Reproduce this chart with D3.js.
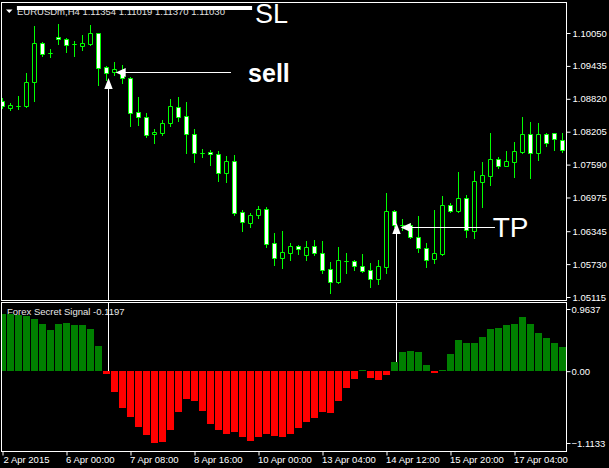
<!DOCTYPE html>
<html><head><meta charset="utf-8">
<script src="https://cdn.jsdelivr.net/npm/d3@7"></script>
<style>html,body{margin:0;padding:0;background:#000;overflow:hidden}</style>
</head><body><svg id="c" width="609" height="468"></svg>
<script>
// ---------- DATA ----------
const symbolTitle = "EURUSDm,H4 1.11354 1.11019 1.11370 1.11030";
const indicatorTitle = "Forex Secret Signal -0.1197";
const timeLabels = ["2 Apr 2015","6 Apr 00:00","7 Apr 08:00","8 Apr 16:00","10 Apr 00:00","13 Apr 04:00","14 Apr 12:00","15 Apr 20:00","17 Apr 04:00"];
const timeLabelBars = [0,8,16,24,32,40,48,56,64];
const priceTicks = [1.10050,1.09435,1.08820,1.08205,1.07590,1.06975,1.06345,1.05730,1.05115];
const signalTicks = [0.9637,0,-1.1133];

const open  = [1.08779,1.08648,1.08685,1.08685,1.09134,1.09863,1.09682,1.09975,1.09938,1.09839,1.09816,1.09844,1.10044,1.09409,1.09312,1.09321,1.09203,1.08568,1.08474,1.08153,1.08186,1.08362,1.08661,1.08499,1.08162,1.07813,1.07831,1.07788,1.07427,1.07657,1.06698,1.06493,1.06648,1.06760,1.06119,1.05835,1.05943,1.06068,1.05906,1.06068,1.05932,1.05633,1.05401,1.05794,1.05788,1.05695,1.05620,1.05457,1.05682,1.06723,1.06470,1.06461,1.06231,1.06025,1.05820,1.05919,1.06829,1.06728,1.06960,1.06354,1.07270,1.07383,1.07689,1.07570,1.07644,1.07831,1.08162,1.07801,1.08162,1.08175,1.08050];
const high  = [1.08835,1.08747,1.08872,1.09302,1.10181,1.09887,1.09745,1.10209,1.09951,1.09901,1.10013,1.10200,1.10056,1.09433,1.09514,1.09452,1.09233,1.08859,1.08549,1.08256,1.08424,1.08811,1.08854,1.08760,1.08256,1.07876,1.07863,1.07850,1.07751,1.07770,1.06741,1.06691,1.06816,1.06803,1.06306,1.06354,1.06119,1.06087,1.06168,1.06181,1.06168,1.05775,1.06055,1.05943,1.05807,1.05919,1.05745,1.05807,1.07065,1.06741,1.06573,1.06498,1.06629,1.06119,1.06741,1.07003,1.06878,1.07457,1.07022,1.07476,1.07644,1.08175,1.07738,1.07850,1.08018,1.08485,1.08392,1.08373,1.08175,1.08186,1.08186];
const low   = [1.08648,1.08611,1.08629,1.08667,1.08785,1.09620,1.09607,1.09839,1.09689,1.09620,1.09732,1.09826,1.09078,1.09172,1.09265,1.09110,1.08312,1.08330,1.08112,1.07999,1.08143,1.08312,1.08405,1.07813,1.07639,1.07738,1.07583,1.07289,1.07270,1.06648,1.06354,1.06429,1.06586,1.06055,1.05713,1.05657,1.05807,1.05919,1.05807,1.05900,1.05569,1.05195,1.05371,1.05569,1.05620,1.05588,1.05296,1.05358,1.05569,1.06424,1.06368,1.06218,1.05962,1.05676,1.05756,1.05900,1.06710,1.06710,1.06231,1.06212,1.06803,1.07209,1.07521,1.07564,1.07364,1.07813,1.07334,1.07676,1.07938,1.07863,1.07831];
const close = [1.08685,1.08704,1.08680,1.09134,1.09863,1.09658,1.09676,1.09929,1.09831,1.09844,1.09872,1.10044,1.09401,1.09308,1.09368,1.09209,1.08560,1.08474,1.08143,1.08199,1.08373,1.08685,1.08489,1.08153,1.07801,1.07810,1.07783,1.07427,1.07657,1.06691,1.06523,1.06648,1.06760,1.06106,1.05839,1.05951,1.06068,1.06007,1.06044,1.05932,1.05620,1.05401,1.05807,1.05790,1.05695,1.05601,1.05457,1.05695,1.06723,1.06461,1.06467,1.06231,1.06025,1.05807,1.05943,1.06835,1.06728,1.06960,1.06368,1.07284,1.07396,1.07689,1.07564,1.07657,1.07839,1.08162,1.07801,1.08162,1.07988,1.08063,1.07863];
const signal = [0.884,0.884,0.868,0.857,0.806,0.729,0.636,0.729,0.749,0.713,0.713,0.656,0.388,-0.042,-0.321,-0.569,-0.708,-0.868,-0.992,-1.113,-1.105,-0.915,-0.631,-0.434,-0.465,-0.620,-0.817,-0.915,-0.981,-0.941,-1.023,-1.081,-1.023,-0.972,-1.003,-1.023,-0.972,-0.879,-0.786,-0.724,-0.640,-0.656,-0.465,-0.259,-0.129,0.010,-0.104,-0.140,-0.062,0.145,0.300,0.310,0.295,0.093,-0.030,0.012,0.264,0.481,0.439,0.439,0.532,0.656,0.672,0.713,0.729,0.837,0.729,0.594,0.517,0.439,0.377];

// annotation anchors (bar index, price)
const slMark   = {bar0: 1.8, bar1: 31.2, price: 1.10517, textBar: 31.56, textPrice: 1.10234, label: "SL"};
const sellMark = {bar: 13.2, price: 1.09209, lineBar0: 14.15, lineBar1: 28.56, linePrice: 1.09327, textBar: 30.7, textPrice: 1.09134, label: "sell"};
const tpMark   = {bar: 49.15, price: 1.06498, lineBar0: 49.77, lineBar1: 61.56, linePrice: 1.06424, textBar: 61.27, textPrice: 1.06242, label: "TP"};

// ---------- LAYOUT ----------
const W = 609, H = 468;
const L = 1.5, R = 566.5, mainTop = 2.5, mainBot = 300.5, subTop = 302.5, subBot = 451.5;
const FONT = "'Liberation Sans', Arial, sans-serif";
const LIME = "#00ff00";

const n = open.length;
const x = d3.scaleLinear().domain([0, n - 1]).range([2.5, 2.5 + 8 * (n - 1)]);
const yP = d3.scaleLinear().domain([1.05115, 1.10050]).range([297, 33]);
const yS = d3.scaleLinear().domain([-1.1133, 0.9637]).range([443, 309]);
const cr = v => Math.round(v) + 0.5;

const svg = d3.select("#c");
svg.append("rect").attr("width", W).attr("height", H).attr("fill", "#000");

const defs = svg.append("defs");
defs.append("clipPath").attr("id", "mc").append("rect")
  .attr("x", L).attr("y", mainTop).attr("width", R - L).attr("height", mainBot - mainTop);
defs.append("clipPath").attr("id", "sc").append("rect")
  .attr("x", L).attr("y", subTop).attr("width", R - L).attr("height", subBot - subTop);

// ---------- TITLES ----------
svg.append("text").attr("x", 17).attr("y", 15).attr("font-family", FONT).attr("font-size", 9.5)
  .attr("fill", "#e0e0e0").text(symbolTitle);
svg.append("path").attr("d", "M6,9.5L12.5,9.5L9.25,13Z").attr("fill", "#fff");
svg.append("text").attr("x", 7).attr("y", 315).attr("font-family", FONT).attr("font-size", 9.5)
  .attr("fill", "#e8e8e8").text(indicatorTitle);

// ---------- CANDLES ----------
const candles = d3.range(n).map(i => ({i, o: open[i], h: high[i], l: low[i], c: close[i]}));
const gm = svg.append("g").attr("clip-path", "url(#mc)");
gm.selectAll("line.wick").data(candles).join("line").attr("class", "wick")
  .attr("x1", d => x(d.i)).attr("x2", d => x(d.i))
  .attr("y1", d => Math.round(yP(d.h))).attr("y2", d => Math.round(yP(d.l)) + 1)
  .attr("stroke", LIME).attr("stroke-width", 1);
gm.selectAll("path.body").data(candles).join("path").attr("class", "body")
  .attr("d", d => {
    const y0 = cr(yP(Math.max(d.o, d.c))), y1 = cr(yP(Math.min(d.o, d.c)));
    const x0 = x(d.i) - 2;
    return `M${x0},${y0}H${x0 + 4}V${y1}H${x0}Z`;
  })
  .attr("fill", d => d.c < d.o ? "#ffffff" : "#000000")
  .attr("stroke", LIME).attr("stroke-width", 1);

// ---------- HISTOGRAM ----------
const gs = svg.append("g").attr("clip-path", "url(#sc)");
function vline(m) {
  const tx = cr(x(m.bar));
  gs.append("line").attr("x1", tx).attr("x2", tx).attr("y1", subTop).attr("y2", Math.round(yS(0)))
    .attr("stroke", "#fff").attr("stroke-width", 1);
}
vline(sellMark); vline(tpMark);
const hist = signal.map((v, i) => ({i, v}));
const z = Math.round(yS(0));
gs.selectAll("rect.bar").data(hist).join("rect").attr("class", "bar")
  .attr("x", d => x(d.i) - 3.5).attr("width", 7)
  .attr("y", d => d.v >= 0 ? Math.min(z - 1, Math.round(yS(d.v))) : z)
  .attr("height", d => Math.max(1, Math.abs(Math.round(yS(d.v)) - z)))
  .attr("fill", d => d.v >= 0 ? "#008000" : "#ff0000");

// ---------- ANNOTATIONS (main) ----------
const ga = svg.append("g");
ga.append("rect").attr("x", x(slMark.bar0)).attr("y", Math.round(yP(slMark.price)) - 2)
  .attr("width", x(slMark.bar1) - x(slMark.bar0)).attr("height", 4).attr("fill", "#fff");
ga.append("text").attr("x", x(slMark.textBar)).attr("y", yP(slMark.textPrice))
  .attr("font-family", FONT).attr("font-size", 27).attr("fill", "#fff").text(slMark.label);

function upArrowMain(m) {
  const tx = cr(x(m.bar)), ty = yP(m.price);
  ga.append("line").attr("x1", tx).attr("x2", tx).attr("y1", ty + 10).attr("y2", mainBot)
    .attr("stroke", "#fff").attr("stroke-width", 1);
  ga.append("path").attr("d", `M${tx},${ty}L${tx + 4.2},${ty + 11}L${tx - 4.2},${ty + 11}Z`).attr("fill", "#fff");
}
function leftArrowLine(m, bold, size) {
  const tx = x(m.lineBar0), ty = cr(yP(m.linePrice));
  ga.append("line").attr("x1", tx + 8).attr("x2", x(m.lineBar1)).attr("y1", ty).attr("y2", ty)
    .attr("stroke", "#fff").attr("stroke-width", 1);
  ga.append("path").attr("d", `M${tx},${ty}L${tx + 10},${ty - 4.6}L${tx + 10},${ty + 4.6}Z`).attr("fill", "#fff");
  ga.append("text").attr("x", x(m.textBar)).attr("y", yP(m.textPrice))
    .attr("font-family", FONT).attr("font-size", size).attr("font-weight", bold ? "bold" : "normal")
    .attr("fill", "#fff").text(m.label);
}
upArrowMain(sellMark); leftArrowLine(sellMark, true, 25);
upArrowMain(tpMark); leftArrowLine(tpMark, false, 28);

// ---------- FRAMES ----------
svg.append("rect").attr("x", L).attr("y", mainTop).attr("width", R - L).attr("height", mainBot - mainTop)
  .attr("fill", "none").attr("stroke", "#fff");
svg.append("rect").attr("x", L).attr("y", subTop).attr("width", R - L).attr("height", subBot - subTop)
  .attr("fill", "none").attr("stroke", "#fff");

// ---------- AXES ----------
function styleAxis(g) {
  g.select(".domain").remove();
  g.selectAll(".tick line").attr("stroke", "#fff");
  g.selectAll(".tick text").attr("fill", "#fff").attr("font-family", FONT).attr("font-size", 9.5);
}
svg.append("g").attr("transform", `translate(${R},0)`)
  .call(d3.axisRight(yP).tickValues(priceTicks).tickFormat(d3.format(".5f")).tickSize(4).tickPadding(2))
  .call(styleAxis);
svg.append("g").attr("transform", `translate(${R},0)`)
  .call(d3.axisRight(yS).tickValues(signalTicks).tickFormat(d => d === 0 ? "0.00" : d3.format(".4f")(d)).tickSize(4).tickPadding(1))
  .call(styleAxis);
const gx = svg.append("g").attr("transform", `translate(0,${subBot})`)
  .call(d3.axisBottom(x).tickValues(timeLabelBars).tickFormat((d, i) => timeLabels[i]).tickSize(4).tickPadding(1))
  .call(styleAxis);
gx.selectAll(".tick text").attr("text-anchor", "start").attr("x", (d, i) => i === 0 ? 0.5 : -1);
</script></body></html>
